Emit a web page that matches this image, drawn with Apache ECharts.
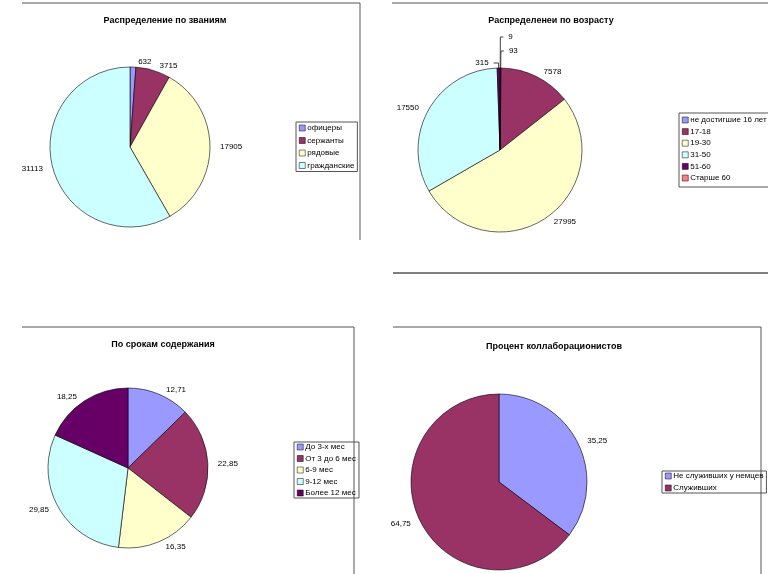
<!DOCTYPE html>
<html>
<head>
<meta charset="utf-8">
<script src="https://cdn.jsdelivr.net/npm/echarts@6/dist/echarts.min.js"></script>
<style>
  html, body { margin: 0; padding: 0; background: #fff; }
  #chart { width: 768px; height: 574px; }
</style>
</head>
<body>
<div id="chart"></div>
<script>
// данные
var rankNames = ['офицеры', 'сержанты', 'рядовые', 'гражданские']
var rankValues = [632, 3715, 17905, 31113]

var ageNames = ['не достигшие 16 лет', '17-18', '19-30', '31-50', '51-60', 'Старше 60']
var ageValues = [93, 7578, 27995, 17550, 315, 9]

var termNames = ['До 3-х мес', 'От 3 до 6 мес', '6-9 мес', '9-12 мес', 'Более 12 мес']
var termValues = [12.71, 22.85, 16.35, 29.85, 18.25]

var collabNames = ['Не служивших у немцев', 'Служивших']
var collabValues = [35.25, 64.75]

var titles = ['Распределение по званиям', 'Распределенеи по возрасту', 'По срокам содержания', 'Процент коллаборационистов']

// палитра Excel
var colors = ['#9999ff', '#993366', '#ffffcc', '#ccffff', '#660066', '#ff8080']
var font = 'Liberation Sans, Arial, sans-serif'

// выноски для маленьких секторов
var leaders = {
  'не достигшие 16 лет': { length: 17, length2: 3 },
  'Старше 60': { length: 31, length2: 3 },
  '51-60': { length: 5, length2: 5 }
};

(function () {
  var myChart = echarts.init(document.getElementById('chart'))

  function toData(names, values) {
    return names.map(function (n, i) {
      var item = { name: n, value: values[i], itemStyle: { color: colors[i % colors.length] } }
      if (leaders[n]) {
        item.labelLine = { show: true, length: leaders[n].length, length2: leaders[n].length2 }
      }
      return item
    })
  }

  function pie(names, values, center, radius, startAngle, comma) {
    return {
      type: 'pie',
      center: center,
      radius: radius,
      startAngle: startAngle,
      clockwise: true,
      avoidLabelOverlap: false,
      animation: false,
      data: toData(names, values),
      itemStyle: { borderColor: '#000', borderWidth: 0.6 },
      label: {
        show: true,
        position: 'outside',
        color: '#000',
        fontSize: 8,
        fontFamily: font,
        formatter: function (p) {
          var s = String(p.value)
          return comma ? s.replace('.', ',') : s
        }
      },
      labelLine: {
        show: false,
        length: 5,
        length2: 0,
        lineStyle: { color: '#444', width: 1 }
      },
      emphasis: { disabled: true }
    }
  }

  function legend(names, left, top, gap, pad) {
    return {
      data: names,
      orient: 'vertical',
      left: left,
      top: top,
      icon: 'rect',
      itemWidth: 6,
      itemHeight: 6,
      itemGap: gap,
      padding: pad,
      borderColor: '#555',
      borderWidth: 1,
      itemStyle: { borderColor: '#000', borderWidth: 0.5 },
      selectedMode: false,
      textStyle: { fontSize: 8, fontFamily: font, color: '#000', padding: [0, 0, 0, -3] }
    }
  }

  function title(text, x, y) {
    return {
      text: text,
      left: x,
      top: y,
      textAlign: 'center',
      textStyle: { fontSize: 9, fontWeight: 'bold', fontFamily: font, color: '#000' }
    }
  }

  function line(x1, y1, x2, y2, w) {
    return {
      type: 'line',
      shape: { x1: x1, y1: y1, x2: x2, y2: y2 },
      style: { stroke: '#555', lineWidth: w || 1 }
    }
  }

  var option = {
    backgroundColor: '#fff',
    title: [
      title(titles[0], 160, 11),
      title(titles[1], 546, 11),
      title(titles[2], 158, 335),
      title(titles[3], 549, 337)
    ],
    legend: [
      legend(rankNames, 296, 122, 4.5, [2, 3, 2, 3]),
      legend(ageNames, 679, 113, 3.6, [3, 3, 5, 3]),
      legend(termNames, 294, 442, 3.5, [1, 3, 1, 3]),
      legend(collabNames, 662, 471, 4, [1, 3, 1, 3])
    ],
    series: [
      pie(rankNames, rankValues, [130, 147], 80, 90, false),
      pie(ageNames, ageValues, [500, 150], 82, 89.8, false),
      pie(termNames, termValues, [128, 468], 80, 90, true),
      pie(collabNames, collabValues, [499, 482], 88, 90, true)
    ],
    graphic: [
      line(22, 3, 360, 3),
      line(360, 3, 360, 240),
      line(392, 3, 768, 3),
      line(393, 273, 768, 273, 1.5),
      line(22, 327, 354, 327),
      line(354, 327, 354, 574),
      line(393, 327, 761, 327),
      line(761, 327, 761, 574)
    ]
  }

  myChart.setOption(option)

  window.addEventListener('resize', function () {
    myChart.resize()
  })
})();
</script>
</body>
</html>
